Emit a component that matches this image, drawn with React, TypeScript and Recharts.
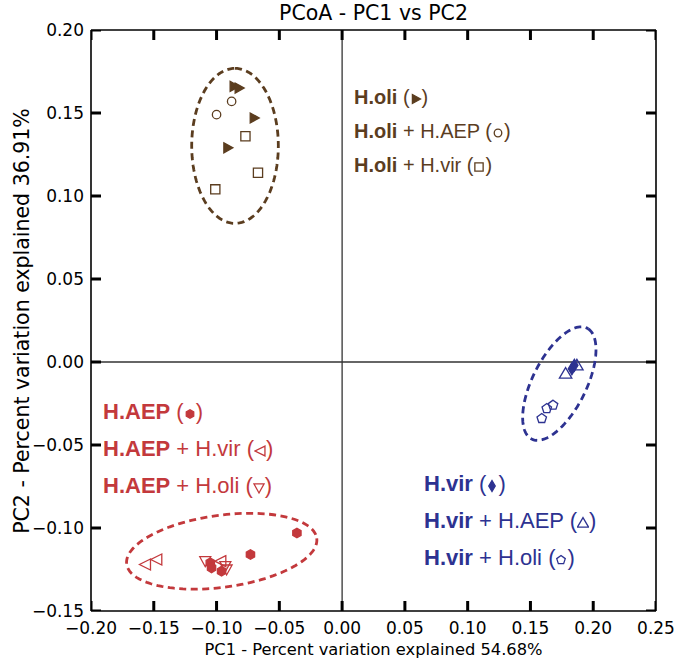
import { ScatterChart, Scatter, XAxis, YAxis, ReferenceLine } from 'recharts';

const BROWN = '#5b3d1f';
const RED = '#c3393c';
const BLUE = '#2d3291';

const X_MIN = -0.2;
const X_MAX = 0.25;
const Y_MIN = -0.15;
const Y_MAX = 0.2;
const xTicks = [-0.2, -0.15, -0.1, -0.05, 0, 0.05, 0.1, 0.15, 0.2, 0.25];
const yTicks = [-0.15, -0.1, -0.05, 0, 0.05, 0.1, 0.15, 0.2];

// PC1 / PC2 scores
const holi = [
  { x: -0.086, y: 0.166 },
  { x: -0.082, y: 0.165 },
  { x: -0.07, y: 0.147 },
  { x: -0.091, y: 0.129 },
];
const holiHaep = [
  { x: -0.088, y: 0.157 },
  { x: -0.1, y: 0.149 },
];
const holiHvir = [
  { x: -0.077, y: 0.136 },
  { x: -0.067, y: 0.114 },
  { x: -0.101, y: 0.104 },
];

const haep = [
  { x: -0.036, y: -0.103 },
  { x: -0.073, y: -0.116 },
  { x: -0.105, y: -0.121 },
  { x: -0.104, y: -0.124 },
  { x: -0.096, y: -0.126 },
];
const haepHvir = [
  { x: -0.157, y: -0.122 },
  { x: -0.148, y: -0.119 },
  { x: -0.097, y: -0.12 },
];
const haepHoli = [
  { x: -0.109, y: -0.12 },
  { x: -0.093, y: -0.123 },
  { x: -0.092, y: -0.125 },
];

const hvir = [
  { x: 0.183, y: -0.004 },
  { x: 0.185, y: -0.002 },
];
const hvirHaep = [
  { x: 0.187, y: -0.002 },
  { x: 0.178, y: -0.007 },
];
const hvirHoli = [
  { x: 0.168, y: -0.026 },
  { x: 0.163, y: -0.028 },
  { x: 0.159, y: -0.034 },
];

// ellipses: centre, end of one semi-axis, end of the conjugate semi-axis
const holiEllipse = [
  { x: -0.0853, y: 0.1302 },
  { x: -0.0853, y: 0.1769 },
  { x: -0.0508, y: 0.1302 },
];
const haepEllipse = [
  { x: -0.0959, y: -0.114 },
  { x: -0.0202, y: -0.1062 },
  { x: -0.092, y: -0.1355 },
];
const hvirEllipse = [
  { x: 0.173, y: -0.013 },
  { x: 0.196, y: 0.02 },
  { x: 0.191, y: -0.022 },
];

// tick positions along each side of the frame (ticks point inward)
const bottomTicks = xTicks.map((t) => ({ x: t, y: Y_MIN }));
const topTicks = xTicks.map((t) => ({ x: t, y: Y_MAX }));
const leftTicks = yTicks.map((t) => ({ x: X_MIN, y: t }));
const rightTicks = yTicks.map((t) => ({ x: X_MAX, y: t }));

type Kind = 'rtri' | 'circle' | 'square' | 'hex' | 'ltri' | 'dtri' | 'diamond' | 'utri' | 'pent';

const ngon = (n: number, r: number, rot: number) =>
  Array.from({ length: n }, (_, i) => {
    const t = rot + (i * 2 * Math.PI) / n;
    return [r * Math.cos(t), r * Math.sin(t)];
  });

function marker(kind: Kind, cx: number, cy: number, color: string, k = 1, sw = 1.3) {
  const poly = (pts: number[][], filled: boolean) => (
    <polygon
      points={pts.map(([a, b]) => `${cx + a * k},${cy + b * k}`).join(' ')}
      fill={filled ? color : 'none'}
      stroke={color}
      strokeWidth={sw}
    />
  );
  switch (kind) {
    case 'rtri':
      return poly([[-4, -5], [5, 0], [-4, 5]], true);
    case 'circle':
      return <circle cx={cx} cy={cy} r={4.2 * k} fill="none" stroke={color} strokeWidth={sw} />;
    case 'square':
      return poly([[-4.6, -4.6], [4.6, -4.6], [4.6, 4.6], [-4.6, 4.6]], false);
    case 'hex':
      return poly(ngon(6, 4.8, Math.PI / 6), true);
    case 'ltri':
      return poly([[5.5, -5.5], [-5.5, 0], [5.5, 5.5]], false);
    case 'dtri':
      return poly([[-5.5, -4.5], [5.5, -4.5], [0, 5.5]], false);
    case 'diamond':
      return poly([[0, -6], [3.6, 0], [0, 6], [-3.6, 0]], true);
    case 'utri':
      return poly([[0, -6], [6.2, 4.5], [-6.2, 4.5]], false);
    default:
      return poly(ngon(5, 5, -Math.PI / 2), false);
  }
}

// draws one short inward tick at every point of the series
function TickLines(props: any) {
  const { points, tx, ty } = props;
  if (!points) return null;
  return (
    <g>
      {points.map((p: any, i: number) => (
        <line key={i} x1={p.x} y1={p.y} x2={p.x + tx} y2={p.y + ty} stroke="#000" strokeWidth={3} />
      ))}
    </g>
  );
}

function EllipseLine(props: any) {
  const { points, color } = props;
  if (!points || points.length < 3) return null;
  const [c, a, b] = points;
  const ax = a.x - c.x;
  const ay = a.y - c.y;
  const bx = b.x - c.x;
  const by = b.y - c.y;
  let d = '';
  for (let i = 0; i <= 120; i++) {
    const t = (i / 120) * Math.PI * 2;
    const px = c.x + ax * Math.cos(t) + bx * Math.sin(t);
    const py = c.y + ay * Math.cos(t) + by * Math.sin(t);
    d += `${i === 0 ? 'M' : 'L'}${px.toFixed(2)},${py.toFixed(2)}`;
  }
  return <path d={d} fill="none" stroke={color} strokeWidth={2.8} strokeDasharray="7 4.5" />;
}

const groups: { data: { x: number; y: number }[]; kind: Kind; color: string }[] = [
  { data: holiHaep, kind: 'circle', color: BROWN },
  { data: holiHvir, kind: 'square', color: BROWN },
  { data: holi, kind: 'rtri', color: BROWN },
  { data: haepHvir, kind: 'ltri', color: RED },
  { data: haepHoli, kind: 'dtri', color: RED },
  { data: haep, kind: 'hex', color: RED },
  { data: hvirHoli, kind: 'pent', color: BLUE },
  { data: hvirHaep, kind: 'utri', color: BLUE },
  { data: hvir, kind: 'diamond', color: BLUE },
];

const ellipses = [
  { data: holiEllipse, color: BROWN },
  { data: haepEllipse, color: RED },
  { data: hvirEllipse, color: BLUE },
];

const tickSides = [
  { data: bottomTicks, tx: 0, ty: -10 },
  { data: topTicks, tx: 0, ty: 10 },
  { data: leftTicks, tx: 10, ty: 0 },
  { data: rightTicks, tx: -10, ty: 0 },
];

type LegendRow = { bold: string; rest: string; kind: Kind };
const brownLegend: LegendRow[] = [
  { bold: 'H.oli', rest: '', kind: 'rtri' },
  { bold: 'H.oli', rest: ' + H.AEP', kind: 'circle' },
  { bold: 'H.oli', rest: ' + H.vir', kind: 'square' },
];
const redLegend: LegendRow[] = [
  { bold: 'H.AEP', rest: '', kind: 'hex' },
  { bold: 'H.AEP', rest: ' + H.vir', kind: 'ltri' },
  { bold: 'H.AEP', rest: ' + H.oli', kind: 'dtri' },
];
const blueLegend: LegendRow[] = [
  { bold: 'H.vir', rest: '', kind: 'diamond' },
  { bold: 'H.vir', rest: ' + H.AEP', kind: 'utri' },
  { bold: 'H.vir', rest: ' + H.oli', kind: 'pent' },
];

const fmt = (v: number) => (v < 0 ? '\u2212' + Math.abs(v).toFixed(2) : v.toFixed(2));

const SANS = "'Liberation Sans', Arial, Helvetica, sans-serif";
const DEJAVU = "'DejaVu Sans', sans-serif";
const TICK_FONT = 17;

const BottomTick = (p: any) => (
  <text x={p.x} y={p.y} dy="0.76em" textAnchor="middle" fontSize={TICK_FONT} fontFamily={DEJAVU} fill="#000">
    {fmt(p.payload.value)}
  </text>
);
const LeftTick = (p: any) => (
  <text x={p.x} y={p.y} dy="0.36em" textAnchor="end" fontSize={TICK_FONT} fontFamily={DEJAVU} fill="#000">
    {fmt(p.payload.value)}
  </text>
);

function LegendBlock({
  rows,
  color,
  left,
  top,
  gap,
  size,
}: {
  rows: LegendRow[];
  color: string;
  left: number;
  top: number;
  gap: number;
  size: number;
}) {
  return (
    <div style={{ position: 'absolute', left, top, fontFamily: SANS, fontSize: size, color }}>
      {rows.map((r, i) => (
        <div key={i} style={{ height: gap, lineHeight: `${gap}px`, whiteSpace: 'nowrap' }}>
          <b>{r.bold}</b>
          {r.rest} (
          <svg width={12} height={14} viewBox="-6 -7 12 14" style={{ verticalAlign: '-2px' }}>
            {marker(r.kind, 0, 0, color, 0.9, 1.3)}
          </svg>
          )
        </div>
      ))}
    </div>
  );
}

export default function App() {
  const axisLine = { stroke: '#000', strokeWidth: 1.6 };
  return (
    <div style={{ position: 'absolute', left: 0, top: 0, width: 677, height: 665, background: '#fff' }}>
      <ScatterChart width={677} height={665} margin={{ top: 0, right: 0, bottom: 0, left: 0 }}>
        <XAxis
          xAxisId="x"
          type="number"
          dataKey="x"
          domain={[X_MIN, X_MAX]}
          allowDataOverflow
          ticks={xTicks}
          interval={0}
          height={54}
          tickSize={0}
          tickMargin={10}
          axisLine={axisLine}
          tickLine={false}
          tick={BottomTick}
        />
        <XAxis
          xAxisId="xt"
          orientation="top"
          type="number"
          domain={[X_MIN, X_MAX]}
          allowDataOverflow
          height={30}
          axisLine={axisLine}
          tickLine={false}
          tick={false}
        />
        <YAxis
          yAxisId="y"
          type="number"
          dataKey="y"
          domain={[Y_MIN, Y_MAX]}
          allowDataOverflow
          ticks={yTicks}
          interval={0}
          width={91}
          tickSize={0}
          tickMargin={7}
          axisLine={axisLine}
          tickLine={false}
          tick={LeftTick}
        />
        <YAxis
          yAxisId="yr"
          orientation="right"
          type="number"
          domain={[Y_MIN, Y_MAX]}
          allowDataOverflow
          width={21}
          axisLine={axisLine}
          tickLine={false}
          tick={false}
        />
        <ReferenceLine xAxisId="x" yAxisId="y" x={0} stroke="#333" strokeWidth={1.3} />
        <ReferenceLine xAxisId="x" yAxisId="y" y={0} stroke="#333" strokeWidth={1.3} />

        {tickSides.map((s, i) => (
          <Scatter
            key={`tick-${i}`}
            xAxisId="x"
            yAxisId="y"
            data={s.data}
            fill="#000"
            line={<TickLines tx={s.tx} ty={s.ty} />}
            shape={() => <g />}
            legendType="none"
            isAnimationActive={false}
          />
        ))}

        {ellipses.map((e, i) => (
          <Scatter
            key={`ell-${i}`}
            xAxisId="x"
            yAxisId="y"
            data={e.data}
            fill={e.color}
            line={<EllipseLine color={e.color} />}
            shape={() => <g />}
            legendType="none"
            isAnimationActive={false}
          />
        ))}
        {groups.map((g, i) => (
          <Scatter
            key={`grp-${i}`}
            xAxisId="x"
            yAxisId="y"
            data={g.data}
            fill={g.color}
            shape={(p: any) => marker(g.kind, p.cx, p.cy, g.color)}
            isAnimationActive={false}
          />
        ))}
      </ScatterChart>

      <div
        style={{
          position: 'absolute',
          left: 91,
          width: 565,
          top: 0,
          textAlign: 'center',
          fontFamily: DEJAVU,
          fontSize: 20.5,
          lineHeight: '26px',
        }}
      >
        PCoA - PC1 vs PC2
      </div>
      <div
        style={{
          position: 'absolute',
          left: 91,
          width: 565,
          top: 639,
          textAlign: 'center',
          fontFamily: DEJAVU,
          fontSize: 16.3,
          lineHeight: '22px',
        }}
      >
        PC1 - Percent variation explained 54.68%
      </div>
      <div
        style={{
          position: 'absolute',
          left: 22 - 250,
          top: 321 - 13,
          width: 500,
          textAlign: 'center',
          fontFamily: DEJAVU,
          fontSize: 20.5,
          lineHeight: '26px',
          transform: 'rotate(-90deg)',
        }}
      >
        PC2 - Percent variation explained 36.91%
      </div>

      <LegendBlock rows={brownLegend} color={BROWN} left={354} top={80} gap={34} size={20} />
      <LegendBlock rows={redLegend} color={RED} left={103} top={393} gap={37} size={22} />
      <LegendBlock rows={blueLegend} color={BLUE} left={424} top={465} gap={37} size={22} />
    </div>
  );
}
